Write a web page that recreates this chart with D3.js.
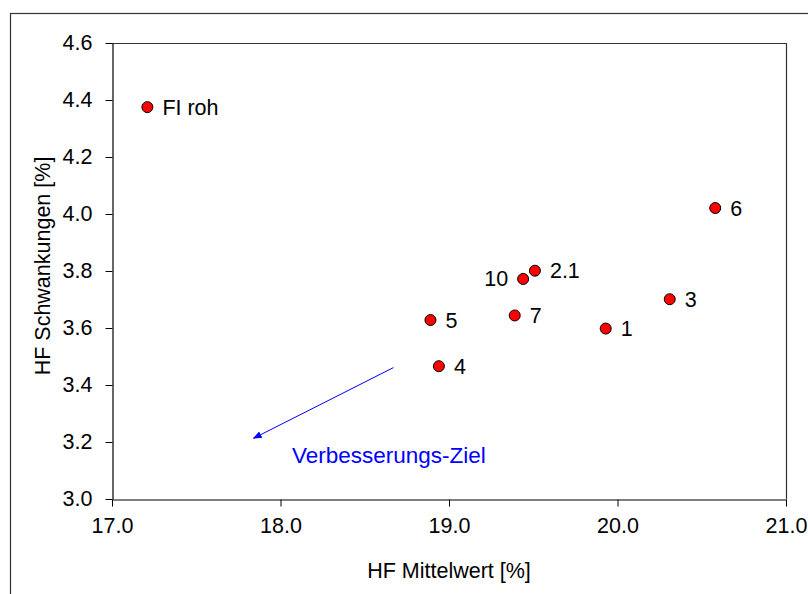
<!DOCTYPE html>
<html>
<head>
<meta charset="utf-8">
<script src="https://cdn.jsdelivr.net/npm/d3@7"></script>
<style>
  html, body { margin: 0; padding: 0; background: #fff; }
  svg { display: block; font-family: Arial, "Liberation Sans", sans-serif; }
</style>
</head>
<body>
<svg id="chart" width="808" height="594"></svg>
<script>
// Measurement labels and their mean / fluctuation of HF
const labels   = ["FI roh", "1", "2.1", "3", "4", "5", "6", "7", "10"];
const meanHF   = [17.21, 19.93, 19.51, 20.31, 18.94, 18.89, 20.58, 19.39, 19.44];
const swingHF  = [4.375, 3.598, 3.801, 3.701, 3.466, 3.628, 4.021, 3.644, 3.772];
const labelSide = ["right", "right", "right", "right", "right", "right", "right", "right", "left"];

const xTicks = [17.0, 18.0, 19.0, 20.0, 21.0];
const yTicks = [3.0, 3.2, 3.4, 3.6, 3.8, 4.0, 4.2, 4.4, 4.6];

// Improvement-target arrow (from -> to, in data units)
const arrowFrom = [18.67, 3.461];
const arrowTo   = [17.84, 3.213];
const arrowText = "Verbesserungs-Ziel";
const arrowTextPos = [18.068, 3.128];

const svg = d3.select("#chart");
const fs = 21.5;

const plot = { left: 112, right: 786, top: 43, bottom: 499 };
const x = d3.scaleLinear().domain([17, 21]).range([plot.left, plot.right]);
const y = d3.scaleLinear().domain([3.0, 4.6]).range([plot.bottom, plot.top]);

// outer chart frame
svg.append("rect")
  .attr("x", 10.5).attr("y", 13.5).attr("width", 820).attr("height", 620)
  .attr("fill", "none").attr("stroke", "#333").attr("stroke-width", 1.2);

// plot area border (top and right)
svg.append("path")
  .attr("d", `M${plot.left},${plot.top + 0.5}H${plot.right + 0.5}V${plot.bottom}`)
  .attr("fill", "none").attr("stroke", "#333").attr("stroke-width", 1.2);

// x axis
const xAxis = d3.axisBottom(x).tickValues(xTicks).tickFormat(d3.format(".1f"))
  .tickSizeInner(7).tickSizeOuter(0).tickPadding(11);
const gx = svg.append("g").attr("transform", `translate(0,${plot.bottom + 0.5})`).call(xAxis);
gx.select(".domain").attr("stroke", "#000").attr("stroke-width", 1.2);
gx.selectAll(".tick line").attr("stroke", "#000");
gx.selectAll(".tick text").attr("font-size", fs).attr("font-family", "Arial, 'Liberation Sans', sans-serif").attr("fill", "#000");

// y axis
const yAxis = d3.axisLeft(y).tickValues(yTicks).tickFormat(d3.format(".1f"))
  .tickSizeInner(7).tickSizeOuter(0).tickPadding(13);
const gy = svg.append("g").attr("transform", `translate(${plot.left + 0.5},0)`).call(yAxis);
gy.select(".domain").attr("stroke", "#000").attr("stroke-width", 1.2);
gy.selectAll(".tick line").attr("stroke", "#000");
gy.selectAll(".tick text").attr("font-size", fs).attr("font-family", "Arial, 'Liberation Sans', sans-serif").attr("fill", "#000");

// axis titles
svg.append("text")
  .attr("x", (plot.left + plot.right) / 2).attr("y", 578)
  .attr("text-anchor", "middle").attr("font-size", fs).attr("fill", "#000")
  .text("HF Mittelwert [%]");
svg.append("text")
  .attr("transform", `translate(50,${(plot.top + plot.bottom) / 2 - 5}) rotate(-90)`)
  .attr("text-anchor", "middle").attr("font-size", fs).attr("fill", "#000")
  .text("HF Schwankungen [%]");

// data points
const data = labels.map((l, i) => ({ label: l, x: meanHF[i], y: swingHF[i], side: labelSide[i] }));
svg.append("g").selectAll("circle").data(data).join("circle")
  .attr("cx", d => x(d.x)).attr("cy", d => y(d.y)).attr("r", 5.5)
  .attr("fill", "#ff0000").attr("stroke", "#000").attr("stroke-width", 1);

svg.append("g").selectAll("text").data(data).join("text")
  .attr("x", d => x(d.x) + (d.side === "left" ? -15 : 15))
  .attr("y", d => y(d.y) + 7.5)
  .attr("text-anchor", d => d.side === "left" ? "end" : "start")
  .attr("font-size", fs).attr("fill", "#000")
  .text(d => d.label);

// improvement arrow
const defs = svg.append("defs");
defs.append("marker")
  .attr("id", "arrowhead").attr("viewBox", "0 0 10 10")
  .attr("refX", 9).attr("refY", 5)
  .attr("markerWidth", 9).attr("markerHeight", 9)
  .attr("markerUnits", "userSpaceOnUse")
  .attr("orient", "auto")
  .append("path").attr("d", "M0,1 L10,5 L0,9 Z").attr("fill", "#0000ff");

svg.append("line")
  .attr("x1", x(arrowFrom[0])).attr("y1", y(arrowFrom[1]))
  .attr("x2", x(arrowTo[0])).attr("y2", y(arrowTo[1]))
  .attr("stroke", "#0000ff").attr("stroke-width", 1)
  .attr("marker-end", "url(#arrowhead)");

svg.append("text")
  .attr("x", x(arrowTextPos[0])).attr("y", y(arrowTextPos[1]))
  .attr("font-size", 22.5).attr("fill", "#0000ff")
  .text(arrowText);
</script>
</body>
</html>
